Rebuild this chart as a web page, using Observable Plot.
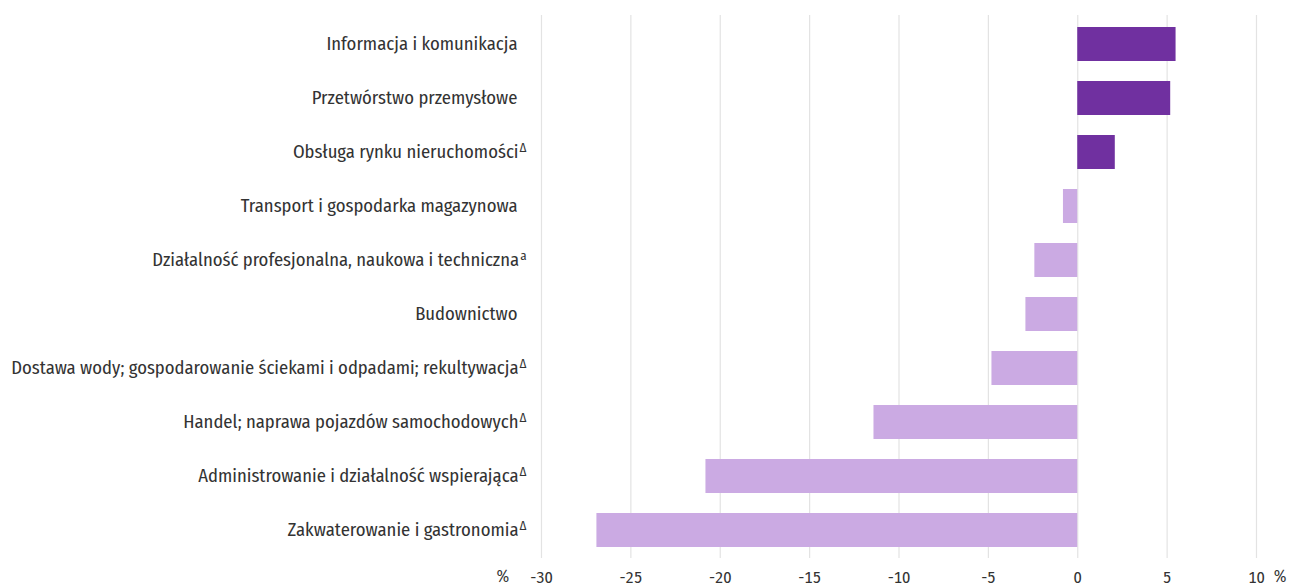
<!DOCTYPE html>
<html>
<head>
<meta charset="utf-8">
<script src="https://cdn.jsdelivr.net/npm/d3@7"></script>
<script src="https://cdn.jsdelivr.net/npm/@observablehq/plot@0.6"></script>
<style>
  html, body { margin: 0; padding: 0; background: #fff; }
  #chart svg { display: block; }
</style>
</head>
<body>
<div id="chart"></div>
<script>
const categories = [
  "Informacja i komunikacja",
  "Przetwórstwo przemysłowe",
  "Obsługa rynku nieruchomości",
  "Transport i gospodarka magazynowa",
  "Działalność profesjonalna, naukowa i techniczna",
  "Budownictwo",
  "Dostawa wody; gospodarowanie ściekami i odpadami; rekultywacja",
  "Handel; naprawa pojazdów samochodowych",
  "Administrowanie i działalność wspierająca",
  "Zakwaterowanie i gastronomia"
];
const values = [5.5, 5.2, 2.1, -0.8, -2.4, -2.9, -4.8, -11.4, -20.8, -26.9];
const notes = ["", "", "Δ", "", "a", "", "Δ", "Δ", "Δ", "Δ"];
const xTicks = [-30, -25, -20, -15, -10, -5, 0, 5, 10];
const unitLabel = "%";

const data = categories.map((name, i) => ({name, value: values[i], note: notes[i]}));
const noteOf = new Map(data.map(d => [d.name, d.note]));

const FONT = "'Fira Sans Condensed', 'Liberation Sans Narrow', 'DejaVu Sans Condensed', 'Roboto', sans-serif";

const chart = Plot.plot({
  width: 1289,
  height: 587,
  marginLeft: 541,
  marginRight: 33,
  marginTop: 15,
  marginBottom: 29,
  style: {fontFamily: FONT, fontSize: "18.6px", color: "#333", background: "#fff"},
  x: {domain: [-30, 10], ticks: xTicks, label: null},
  y: {domain: categories, paddingInner: 0.374, paddingOuter: 0.184, label: null},
  marks: [
    Plot.gridX(xTicks, {stroke: "#e3e3e3", strokeOpacity: 1, strokeWidth: 1.2}),
    Plot.barX(data.filter(d => d.value >= 0), {x: "value", y: "name", fill: "#7030a0"}),
    Plot.barX(data.filter(d => d.value < 0), {x: "value", y: "name", fill: "#cbaae3"}),
    Plot.axisX(xTicks, {tickSize: 0, tickPadding: 12.5, tickFormat: d => String(d), fontSize: 16.5, fill: "#333"}),
    Plot.axisY({tickSize: 0, tickPadding: 24, fontSize: 18.6, fill: "#333"}),
    Plot.text([unitLabel], {frameAnchor: "bottom-left", dx: -45, dy: 18.5, fontSize: 17, fill: "#333", lineAnchor: "middle"}),
    Plot.text([unitLabel], {frameAnchor: "bottom-right", dx: 30, dy: 18.5, fontSize: 17, fill: "#333", lineAnchor: "middle"})
  ]
});

// Superscript footnote markers after the category labels
d3.select(chart).selectAll("g[aria-label='y-axis tick label'] text").each(function(d) {
  const t = d3.select(this);
  const label = typeof d === "string" ? d : t.text();
  const note = noteOf.get(label) ?? noteOf.get(t.text());
  if (note) {
    t.append("tspan").attr("dx", "1").attr("dy", "-0.5em").attr("font-size", "13px").text(note);
    const tr = t.attr("transform") || "";
    t.attr("transform", (tr + " translate(9,0)").trim());
  }
});

document.getElementById("chart").append(chart);
</script>
</body>
</html>
